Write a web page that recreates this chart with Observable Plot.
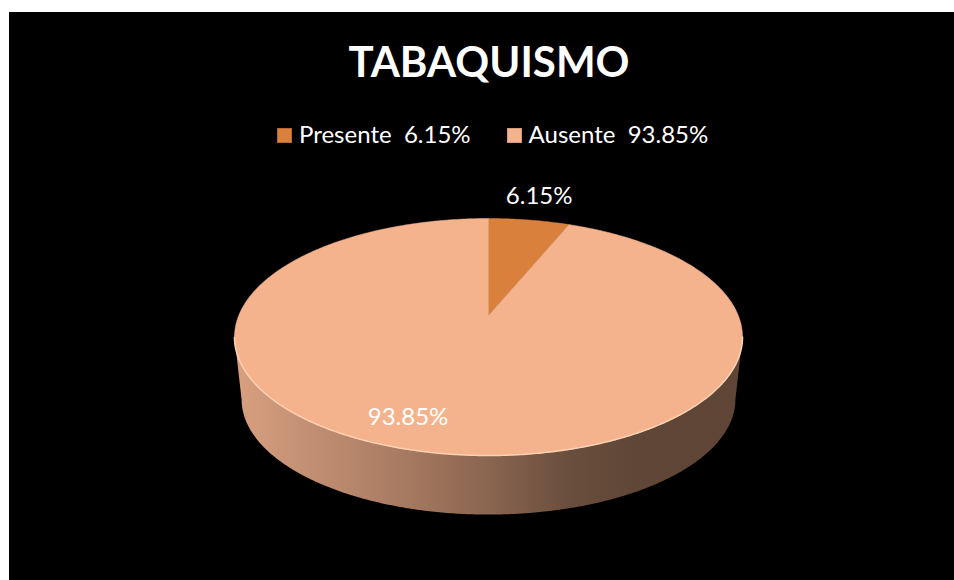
<!DOCTYPE html>
<html>
<head>
<meta charset="utf-8">
<script src="https://cdn.jsdelivr.net/npm/d3@7"></script>
<script src="https://cdn.jsdelivr.net/npm/@observablehq/plot@0.6"></script>
<style>
  html, body { margin: 0; padding: 0; background: #fff; }
  body { width: 954px; height: 580px; position: relative; overflow: hidden; }
  #box { position: absolute; left: 9px; top: 12px; width: 945px; height: 568px; background: #000; overflow: hidden; font-family: Lato, "Open Sans", sans-serif; color: #fff; }
  #title { position: absolute; left: 480px; top: 28px; transform: translateX(-50%); font-weight: bold; font-size: 42px; line-height: 1; white-space: nowrap; }
  #legend { position: absolute; left: 268px; top: 110px; font-size: 24px; line-height: 1; white-space: pre; }
  .item { display: inline-block; margin-right: 36px; }
  .sw { display: inline-block; width: 15px; height: 15px; margin-right: 7px; vertical-align: baseline; box-sizing: border-box; }
  #chart { position: absolute; left: 0; top: 153px; }
</style>
</head>
<body>
<div id="box">
  <div id="title"></div>
  <div id="legend"></div>
  <div id="chart"></div>
</div>
<script>
// ---- data ----
const title = "TABAQUISMO";
const categories = ["Presente", "Ausente"];
const values = [6.15, 93.85];
const labels = ["6.15%", "93.85%"];
const colors = ["#D9803C", "#F4B38D"];
const swatchBorders = ["#B8682E", "#D9997A"];

// ---- layout ----
const W = 945, H = 415;
const CX = 479, CY = 150;        // projected centre of the pie
const A = 249.8, B = 114.6, K = 0.1814; // perspective ellipse parameters
const SIDE_SCALE = 0.972, SIDE_OFF = 63;
const labelRadius = [1.3, 0.78];
const labelDx = [0, -37];

function proj(deg, r = 1, s = 1, off = 0) {
  const t = deg * Math.PI / 180;
  const u = r * Math.sin(t), v = -r * Math.cos(t);
  const den = 1 - K * v;
  return {x: CX + s * A * u / den, y: CY + s * B * v / den + off};
}

// slices
const total = d3.sum(values);
let acc = 0;
const slices = categories.map((c, i) => {
  const a0 = acc / total * 360;
  acc += values[i];
  const a1 = acc / total * 360;
  return {c, i, a0, a1, mid: (a0 + a1) / 2};
});

const slicePts = slices.map(s => {
  const pts = [{x: CX, y: CY, key: s.c}];
  const n = Math.max(2, Math.ceil((s.a1 - s.a0) / 0.5));
  for (let j = 0; j <= n; j++) {
    const p = proj(s.a0 + (s.a1 - s.a0) * j / n);
    pts.push({...p, key: s.c});
  }
  pts.push({x: CX, y: CY, key: s.c});
  return pts;
});

// side (visible front wall)
const tL = Math.acos(-K) * 180 / Math.PI; // right silhouette
const tR = 360 - tL;                      // left silhouette
const side = [];
for (let t = tL; t <= tR + 1e-9; t += 0.5) side.push(proj(t));
for (let t = tR; t >= tL - 1e-9; t -= 0.5) side.push(proj(t, 1, SIDE_SCALE, SIDE_OFF));

const rim = [];
for (let t = tL; t <= tR + 1e-9; t += 0.5) rim.push(proj(t));

const labelPos = slices.map(s => {
  const p = proj(s.mid, labelRadius[s.i]);
  return {x: p.x + labelDx[s.i], y: p.y, text: labels[s.i]};
});

// ---- title & legend (HTML) ----
document.getElementById("title").textContent = title;
const legend = document.getElementById("legend");
categories.forEach((c, i) => {
  const item = document.createElement("span");
  item.className = "item";
  const sw = document.createElement("span");
  sw.className = "sw";
  sw.style.background = colors[i];
  sw.style.border = `1px solid ${swatchBorders[i]}`;
  item.appendChild(sw);
  item.appendChild(document.createTextNode(`${c}  ${labels[i]}`));
  legend.appendChild(item);
});

// ---- chart ----
const chart = Plot.plot({
  width: W, height: H,
  margin: 0,
  style: {background: "black", color: "white", fontFamily: "Lato, 'Open Sans', sans-serif"},
  x: {domain: [0, W], range: [0, W], axis: null},
  y: {domain: [0, H], range: [0, H], axis: null},
  marks: [
    Plot.line(side, {x: "x", y: "y", fill: "url(#sideGrad)", stroke: "none", curve: "linear"}),
    ...slicePts.map((pts, i) => Plot.line(pts, {x: "x", y: "y", fill: colors[i], stroke: colors[i], strokeWidth: 0.5, curve: "linear"})),
    Plot.line(rim, {x: "x", y: "y", stroke: "#FCD2B3", strokeWidth: 1.5, curve: "linear"}),
    Plot.text(labelPos, {x: "x", y: "y", text: "text", fill: "white", fontSize: 24, textAnchor: "middle", lineAnchor: "middle"})
  ]
});

const defs = d3.select(chart).insert("defs", ":first-child");
const g = defs.append("linearGradient").attr("id", "sideGrad").attr("x1", 0).attr("x2", 1).attr("y1", 0).attr("y2", 0);
[[0, "#D8A080"], [0.33, "#A87A62"], [0.5, "#8A6550"], [0.66, "#6A4E3D"], [0.8, "#5F4636"], [1, "#5E4535"]]
  .forEach(([o, c]) => g.append("stop").attr("offset", o).attr("stop-color", c));

document.getElementById("chart").appendChild(chart);
</script>
</body>
</html>
